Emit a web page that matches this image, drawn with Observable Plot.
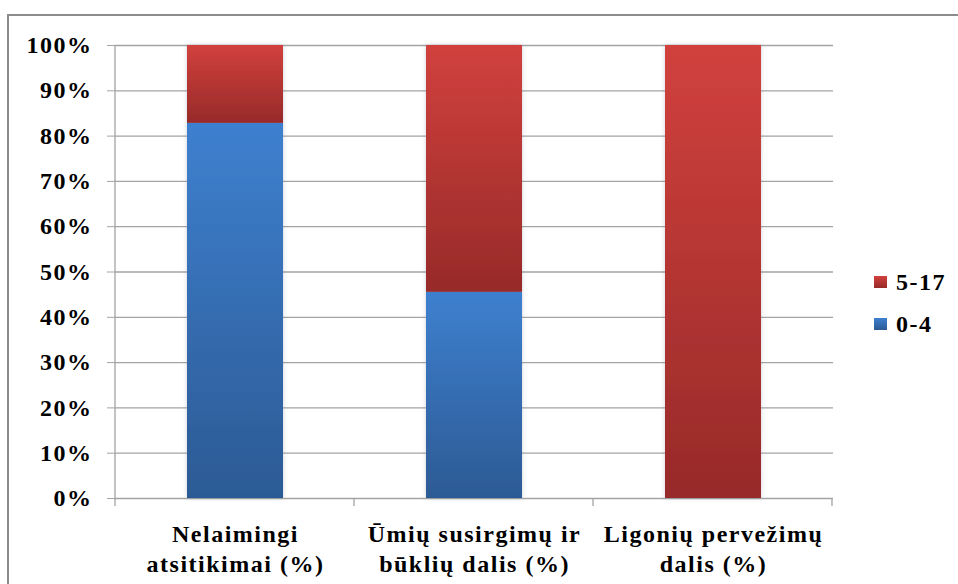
<!DOCTYPE html>
<html><head><meta charset="utf-8">
<script src="https://cdn.jsdelivr.net/npm/d3@7"></script>
<script src="https://cdn.jsdelivr.net/npm/@observablehq/plot@0.6"></script>
<style>
body{margin:0;background:#fff;}
#wrap{position:relative;width:958px;height:584px;overflow:hidden;font-family:"Liberation Serif","Times New Roman",serif;font-weight:bold;}
#wrap svg{position:absolute;left:0;top:0;}
#frame{position:absolute;left:7px;top:14px;width:1000px;height:1000px;border-top:2px solid #8c8c8c;border-left:2px solid #8c8c8c;pointer-events:none;}
#legend{position:absolute;left:874px;top:261px;font-size:24px;letter-spacing:1.5px;color:#000;}
.item{display:flex;align-items:center;height:42px;}
.sw{width:13px;height:12px;margin-right:9px;}
</style></head>
<body><div id="wrap"><div id="frame"></div><div id="legend"></div></div>
<script>
const categories = ["Nelaimingi atsitikimai (%)", "Ūmių susirgimų ir būklių dalis (%)", "Ligonių pervežimų dalis (%)"];
const categoryLabels = ["Nelaimingi\natsitikimai (%)", "Ūmių susirgimų ir\nbūklių dalis (%)", "Ligonių pervežimų\ndalis (%)"];
const series = ["0-4", "5-17"];
const share04 = [82.8, 45.5, 0];
const share517 = [17.2, 54.5, 100];
const yTicks = [0, 10, 20, 30, 40, 50, 60, 70, 80, 90, 100];
const legendOrder = ["5-17", "0-4"];
const gradientStops = {"0-4": ["#3e80cf", "#2c5a94"], "5-17": ["#d1413d", "#972a29"]};
const gradientIds = {"0-4": "g04", "5-17": "g517"};
const fontFamily = '"Liberation Serif","Times New Roman",serif';

const rows = categories.flatMap((c, i) => [
  {category: c, series: "0-4", value: share04[i]},
  {category: c, series: "5-17", value: share517[i]}
]);

const chart = Plot.plot({
  width: 958,
  height: 584,
  marginLeft: 115,
  marginRight: 125,
  marginTop: 45,
  marginBottom: 86,
  style: {fontFamily, fontWeight: "bold", fontSize: "24px", letterSpacing: "1.5px", color: "#000", background: "transparent", overflow: "visible"},
  x: {domain: categories, paddingInner: 0.6, paddingOuter: 0.3, label: null},
  y: {domain: [0, 100], label: null},
  color: {domain: series, range: series.map(s => `url(#${gradientIds[s]})`)},
  marks: [
    Plot.ruleY(yTicks, {stroke: "#a3a3a3", strokeWidth: 1.3}),
    Plot.barY(rows, Plot.stackY({x: "category", y: "value", fill: "series", order: series})),
    Plot.axisY({ticks: yTicks, tickFormat: d => d + "%", tickSize: 8, tickPadding: 15, fontSize: 24, stroke: "#a3a3a3", fill: "#000", label: null}),
    Plot.axisX({tickSize: 0, tickPadding: 22, tickFormat: d => categoryLabels[categories.indexOf(d)], fontSize: 24, lineHeight: 1.25, fill: "#000", label: null})
  ]
});

const svg = d3.select(chart);
svg.selectAll("text").attr("font-family", fontFamily);
const defs = svg.insert("defs", ":first-child");
for (const s of series) {
  const g = defs.append("linearGradient").attr("id", gradientIds[s]).attr("x1", 0).attr("y1", 0).attr("x2", 0).attr("y2", 1);
  g.append("stop").attr("offset", "0%").attr("stop-color", gradientStops[s][0]);
  g.append("stop").attr("offset", "100%").attr("stop-color", gradientStops[s][1]);
}
const f = defs.append("filter").attr("id", "sh").attr("x", "-20%").attr("y", "-5%").attr("width", "140%").attr("height", "110%");
f.append("feDropShadow").attr("dx", 0).attr("dy", 0).attr("stdDeviation", 2).attr("flood-color", "#6a7a90").attr("flood-opacity", 0.35);
svg.selectAll('g[aria-label="bar"]').attr("filter", "url(#sh)");

// axis lines
const xs = chart.scale("x"), ys = chart.scale("y");
const [r0] = xs.range;
const y0 = ys.apply(0), y100 = ys.apply(100);
const axes = svg.append("g").attr("stroke", "#a3a3a3").attr("stroke-width", 1.3);
axes.append("line").attr("x1", r0).attr("x2", r0).attr("y1", y100).attr("y2", y0);
for (let i = 0; i <= categories.length; i++) {
  const xb = r0 + i * xs.step;
  axes.append("line").attr("x1", xb).attr("x2", xb).attr("y1", y0).attr("y2", y0 + 8);
}

document.getElementById("wrap").prepend(chart);

// legend
const legend = d3.select("#legend");
for (const s of legendOrder) {
  const it = legend.append("div").attr("class", "item");
  it.append("div").attr("class", "sw").style("background", `linear-gradient(${gradientStops[s][0]}, ${gradientStops[s][1]})`);
  it.append("span").text(s);
}
</script>
</body></html>
